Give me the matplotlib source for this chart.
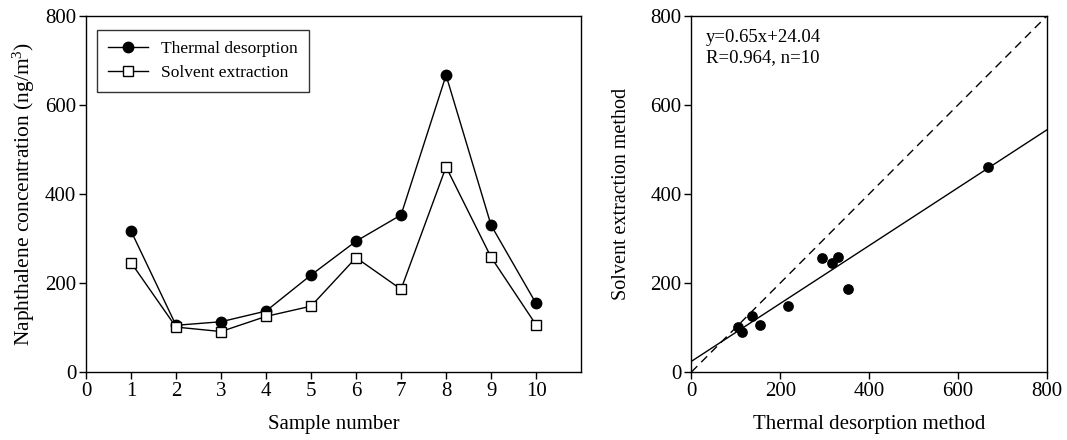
import matplotlib
matplotlib.use("Agg")
import matplotlib.pyplot as plt
import numpy as np

plt.rcParams['font.family'] = ['Liberation Serif', 'DejaVu Serif']
plt.rcParams['mathtext.fontset'] = 'custom'
plt.rcParams['mathtext.rm'] = 'Liberation Serif'
plt.rcParams['mathtext.it'] = 'Liberation Serif:italic'

samples = [1, 2, 3, 4, 5, 6, 7, 8, 9, 10]
thermal = [317, 105, 113, 137, 218, 294, 353, 667, 330, 154]
solvent = [246, 101, 91, 125, 148, 257, 186, 461, 258, 106]
slope, intercept = 0.65, 24.04

fig = plt.figure(figsize=(10.67, 4.4), dpi=100)
ax1 = fig.add_axes([0.0806, 0.1545, 0.464, 0.809])
ax2 = fig.add_axes([0.648, 0.1545, 0.333, 0.809])

ax1.plot(samples, thermal, '-', color='black', lw=1.0, marker='o', ms=7.5,
         mfc='black', mec='black', label='Thermal desorption')
ax1.plot(samples, solvent, '-', color='black', lw=1.0, marker='s', ms=7,
         mfc='white', mec='black', mew=1.0, label='Solvent extraction')
ax1.set_xlim(0, 11)
ax1.set_ylim(0, 800)
ax1.set_xticks(range(0, 11))
ax1.set_yticks([0, 200, 400, 600, 800])
ax1.set_xlabel('Sample number', fontsize=15, labelpad=10)
ax1.set_ylabel('Naphthalene concentration (ng/m$^{\\mathrm{3}}$)', fontsize=15.5, labelpad=6)
leg = ax1.legend(loc='upper left', fontsize=12.5, frameon=True, fancybox=False,
                 edgecolor='black', handlelength=2.3, borderpad=0.6,
                 bbox_to_anchor=(0.005, 0.985))
leg.get_frame().set_linewidth(1.0)

ax2.scatter(thermal, solvent, s=45, color='black', zorder=3)
xx = np.array([0, 800])
ax2.plot(xx, slope * xx + intercept, '-', color='black', lw=1.0)
ax2.plot(xx, xx, '--', color='black', lw=1.0, dashes=(6, 4))
ax2.set_xlim(0, 800)
ax2.set_ylim(0, 800)
ax2.set_xticks([0, 200, 400, 600, 800])
ax2.set_yticks([0, 200, 400, 600, 800])
ax2.set_xlabel('Thermal desorption method', fontsize=15, labelpad=10)
ax2.set_ylabel('Solvent extraction method', fontsize=14.5, labelpad=14)
ax2.text(0.04, 0.965, 'y=0.65x+24.04\nR=0.964, n=10', transform=ax2.transAxes,
         ha='left', va='top', fontsize=13.5, linespacing=1.3)

for ax in (ax1, ax2):
    ax.tick_params(direction='out', length=5, width=1, pad=2, labelsize=15, colors='black')
    for s in ax.spines.values():
        s.set_linewidth(1.0)

fig.savefig('out.png', dpi=100)
